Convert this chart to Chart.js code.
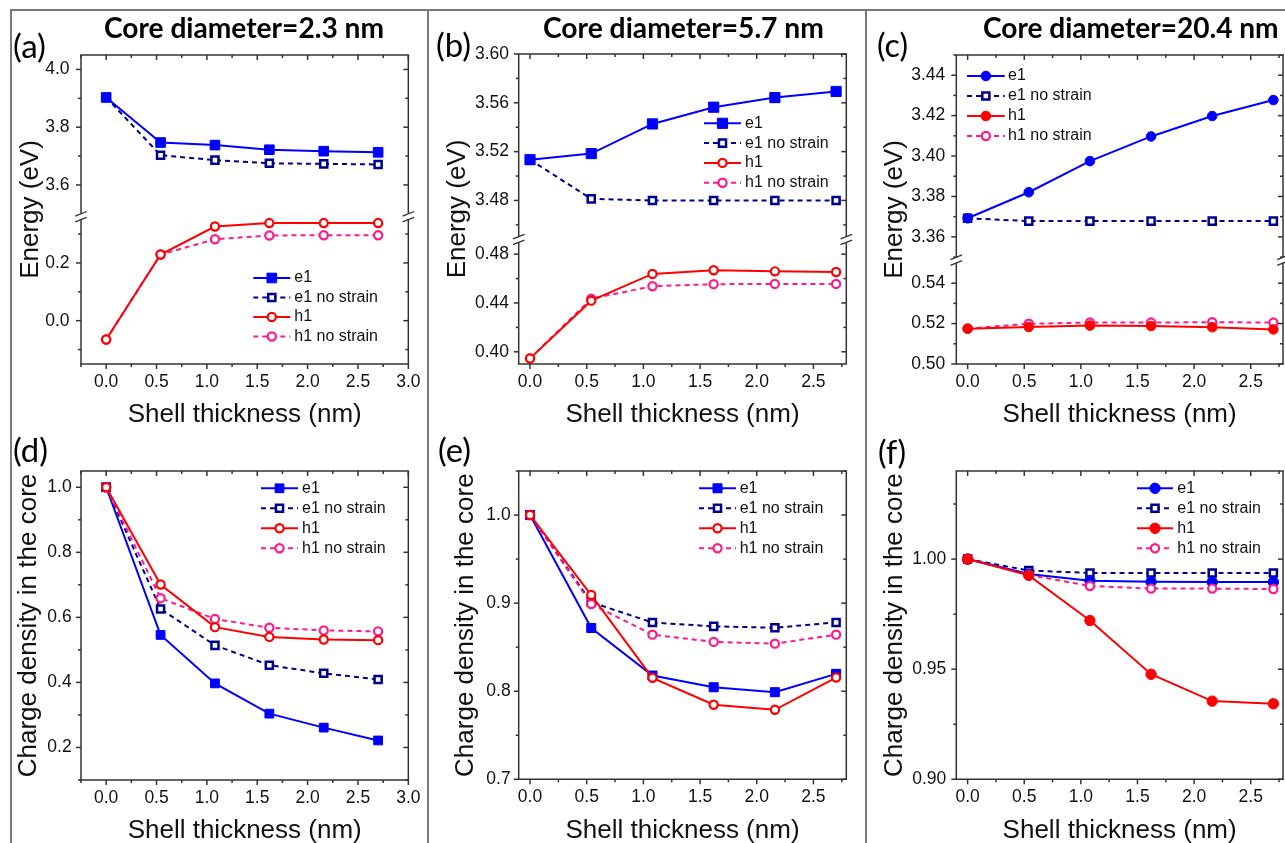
<!DOCTYPE html>
<html><head><meta charset="utf-8">
<script src="https://cdn.jsdelivr.net/npm/chart.js@4.4.1/dist/chart.umd.min.js"></script>
<style>
html,body{margin:0;padding:0;background:#fff;overflow:hidden;width:1285px;height:843px;position:relative;}
canvas.cv{position:absolute;}
.ttl{position:absolute;font-family:Lato,"Open Sans",sans-serif;font-weight:700;color:#000;white-space:nowrap;line-height:1;}
.lab{position:absolute;font-family:Lato,"Open Sans",sans-serif;font-weight:400;color:#000;white-space:nowrap;line-height:1;}
.bd{position:absolute;background:#7a7a7a;}
</style></head><body>
<div class="bd" style="left:10px;top:9px;width:1275px;height:2px"></div>
<div class="bd" style="left:10px;top:9px;width:2px;height:834px"></div>
<div class="bd" style="left:427px;top:9px;width:2px;height:834px"></div>
<div class="bd" style="left:865px;top:9px;width:2px;height:834px"></div>
<canvas class="cv" id="cA" width="428" height="430" style="left:0;top:0"></canvas>
<canvas class="cv" id="cB" width="430" height="430" style="left:428px;top:0"></canvas>
<canvas class="cv" id="cC" width="427" height="430" style="left:858px;top:0"></canvas>
<canvas class="cv" id="cD" width="428" height="426" style="left:0;top:420px"></canvas>
<canvas class="cv" id="cE" width="430" height="426" style="left:428px;top:420px"></canvas>
<canvas class="cv" id="cF" width="427" height="426" style="left:858px;top:420px"></canvas>
<div class="ttl" id="tA">Core diameter=2.3 nm</div>
<div class="ttl" id="tB">Core diameter=5.7 nm</div>
<div class="ttl" id="tC">Core diameter=20.4 nm</div>
<div class="lab" id="lA">(a)</div>
<div class="lab" id="lB">(b)</div>
<div class="lab" id="lC">(c)</div>
<div class="lab" id="lD">(d)</div>
<div class="lab" id="lE">(e)</div>
<div class="lab" id="lF">(f)</div>
<script>
// ---------------- DATA ----------------
const shellThickness = [0, 0.54, 1.08, 1.62, 2.16, 2.7];
const seriesLabels = ['e1', 'e1 no strain', 'h1', 'h1 no strain'];

// (a) Energy, core diameter 2.3 nm
const energyA_e1         = [3.903, 3.747, 3.738, 3.722, 3.717, 3.713];
const energyA_e1NoStrain = [3.903, 3.703, 3.686, 3.675, 3.673, 3.671];
const energyA_h1         = [-0.065, 0.229, 0.326, 0.338, 0.338, 0.338];
const energyA_h1NoStrain = [-0.065, 0.229, 0.282, 0.295, 0.296, 0.296];

// (b) Energy, core diameter 5.7 nm
const energyB_e1         = [3.5134, 3.5184, 3.5427, 3.5564, 3.5643, 3.5693];
const energyB_e1NoStrain = [3.5134, 3.4813, 3.4800, 3.4800, 3.4800, 3.4800];
const energyB_h1         = [0.3946, 0.4419, 0.4638, 0.4668, 0.4659, 0.4654];
const energyB_h1NoStrain = [0.3946, 0.4435, 0.4537, 0.4554, 0.4556, 0.4556];

// (c) Energy, core diameter 20.4 nm
const energyC_e1         = [3.3692, 3.3821, 3.3975, 3.4097, 3.4198, 3.4277];
const energyC_e1NoStrain = [3.3692, 3.3678, 3.3678, 3.3678, 3.3678, 3.3678];
const energyC_h1         = [0.5175, 0.5183, 0.5190, 0.5188, 0.5182, 0.5171];
const energyC_h1NoStrain = [0.5175, 0.5199, 0.5205, 0.5205, 0.5207, 0.5205];

// (d) Charge density in the core, 2.3 nm
const chargeD_e1         = [1.0, 0.546, 0.397, 0.304, 0.261, 0.2215];
const chargeD_e1NoStrain = [1.0, 0.626, 0.514, 0.453, 0.428, 0.409];
const chargeD_h1         = [1.0, 0.701, 0.570, 0.540, 0.532, 0.530];
const chargeD_h1NoStrain = [1.0, 0.659, 0.595, 0.568, 0.560, 0.557];

// (e) Charge density in the core, 5.7 nm
const chargeE_e1         = [1.0, 0.8718, 0.8178, 0.8045, 0.7989, 0.8197];
const chargeE_e1NoStrain = [1.0, 0.901, 0.878, 0.8736, 0.8721, 0.8781];
const chargeE_h1         = [1.0, 0.9092, 0.8152, 0.7846, 0.7789, 0.8155];
const chargeE_h1NoStrain = [1.0, 0.899, 0.8642, 0.856, 0.854, 0.8642];

// (f) Charge density in the core, 20.4 nm
const chargeF_e1         = [1.0, 0.9932, 0.9902, 0.9897, 0.9896, 0.9896];
const chargeF_e1NoStrain = [1.0, 0.9948, 0.9937, 0.9937, 0.9937, 0.9937];
const chargeF_h1         = [1.0, 0.9926, 0.9721, 0.9477, 0.9355, 0.9343];
const chargeF_h1NoStrain = [1.0, 0.9928, 0.9878, 0.9866, 0.9866, 0.9864];

// Tick labels
const xTicksWide   = [0.0, 0.5, 1.0, 1.5, 2.0, 2.5, 3.0];
const xTicksNarrow = [0.0, 0.5, 1.0, 1.5, 2.0, 2.5];
const yTicksA_top = [3.6, 3.8, 4.0];
const yTicksA_bot = [0.0, 0.2];
const yTicksB_top = [3.48, 3.52, 3.56, 3.60];
const yTicksB_bot = [0.40, 0.44, 0.48];
const yTicksC_top = [3.36, 3.38, 3.40, 3.42, 3.44];
const yTicksC_bot = [0.50, 0.52, 0.54];
const yTicksD = [0.2, 0.4, 0.6, 0.8, 1.0];
const yTicksE = [0.7, 0.8, 0.9, 1.0];
const yTicksF = [0.90, 0.95, 1.00];

// ---------------- STYLE ----------------
const FONT = '"Liberation Sans", Arial, Helvetica, sans-serif';
const COL = {e1:'#0000FF', e1ns:'#00008E', h1:'#FF0000', h1ns:'#FF1A8C'};
const AXIS_COLOR = '#333';
const TICK_FONT = 17.5, TITLE_FONT = 26, LEGEND_FONT = 16;

function ds(label, values, color, dash, pstyle, filled, r, bw, yAxisID, order) {
  return {
    label, data: shellThickness.map((x, i) => ({x, y: values[i]})),
    borderColor: color, backgroundColor: color, borderWidth: 2, borderDash: dash,
    pointStyle: pstyle, pointRadius: r, pointHoverRadius: r, pointBorderWidth: bw,
    pointBackgroundColor: filled ? color : '#ffffff', pointBorderColor: color,
    yAxisID, order, tension: 0, fill: false
  };
}

// ---------------- PLUGINS ----------------
function minorsOf(major, min, max) {
  const step = major[1] - major[0];
  const out = [];
  for (let i = 0; i < major.length - 1; i++) out.push((major[i] + major[i+1]) / 2);
  out.push(major[0] - step/2, major[major.length-1] + step/2);
  return out.filter(v => v >= min - 1e-9 && v <= max + 1e-9);
}

const framePlugin = {
  id: 'frame',
  afterDatasetsDraw(chart, args, o) {
    const {ctx, chartArea: ca, scales} = chart;
    const xs = scales.x;
    ctx.save();
    ctx.strokeStyle = AXIS_COLOR; ctx.lineWidth = 1.5; ctx.setLineDash([]);
    const ln = (x1, y1, x2, y2) => { ctx.beginPath(); ctx.moveTo(x1, y1); ctx.lineTo(x2, y2); ctx.stroke(); };
    ln(ca.left - 0.75, ca.top, ca.right + 0.75, ca.top);
    ln(ca.left - 0.75, ca.bottom, ca.right + 0.75, ca.bottom);
    const segs = o.ySegs.map(s => ({...s, sc: scales[s.id]}));
    const G = 2.9;
    if (segs.length === 2) {
      const b = scales[segs[0].id].bottom;
      for (const x0 of [ca.left, ca.right]) {
        ln(x0, ca.top, x0, b - G);
        ln(x0, b + G, x0, ca.bottom);
        ctx.lineWidth = 1.3;
        ln(x0 - 5.8, b - G + 2.3, x0 + 5.8, b - G - 2.3);
        ln(x0 - 5.8, b + G + 2.3, x0 + 5.8, b + G - 2.3);
        ctx.lineWidth = 1.5;
      }
    } else {
      ln(ca.left, ca.top, ca.left, ca.bottom);
      ln(ca.right, ca.top, ca.right, ca.bottom);
    }
    for (const v of o.xTicks) {
      const p = xs.getPixelForValue(v);
      ln(p, ca.bottom, p, ca.bottom + 5);
      ln(p, ca.top, p, ca.top + 5);
    }
    for (const v of minorsOf(o.xTicks, xs.min, xs.max)) {
      const p = xs.getPixelForValue(v);
      ln(p, ca.bottom, p, ca.bottom + 3);
      ln(p, ca.top, p, ca.top + 3);
    }
    for (const s of segs) {
      const sc = s.sc;
      for (const v of s.ticks) {
        if (v < sc.min - 1e-9 || v > sc.max + 1e-9) continue;
        const p = sc.getPixelForValue(v);
        ln(ca.left - 5, p, ca.left, p);
        ln(ca.right - 5, p, ca.right, p);
      }
      for (const v of minorsOf(s.ticks, sc.min, sc.max)) {
        const p = sc.getPixelForValue(v);
        if (segs.length === 2 && (Math.abs(p - sc.top) < 3 && sc.id === segs[1].id || Math.abs(p - sc.bottom) < 3 && sc.id === segs[0].id)) continue;
        ln(ca.left - 3, p, ca.left, p);
        ln(ca.right - 3, p, ca.right, p);
      }
    }
    ctx.fillStyle = '#111';
    ctx.font = TITLE_FONT + 'px ' + FONT;
    ctx.textAlign = 'center'; ctx.textBaseline = 'middle';
    ctx.translate(ca.left - o.yTitleOffset, (ca.top + ca.bottom) / 2);
    ctx.rotate(-Math.PI / 2);
    ctx.fillText(o.yTitle, 0, 0);
    ctx.restore();
  }
};

const legendPlugin = {
  id: 'boxLegend',
  afterDatasetsDraw(chart, args, o) {
    const ctx = chart.ctx;
    ctx.save();
    seriesLabels.forEach((lab, i) => {
      const d = chart.data.datasets.find(q => q.label === lab);
      const y = o.y + i * o.dy;
      ctx.strokeStyle = d.borderColor; ctx.lineWidth = d.borderWidth;
      ctx.setLineDash(d.borderDash || []);
      ctx.beginPath(); ctx.moveTo(o.x, y); ctx.lineTo(o.x + o.len, y); ctx.stroke();
      ctx.setLineDash([]);
      ctx.fillStyle = d.pointBackgroundColor; ctx.strokeStyle = d.pointBorderColor;
      ctx.lineWidth = d.pointBorderWidth;
      Chart.helpers.drawPoint(ctx, {pointStyle: d.pointStyle, radius: d.pointRadius, borderWidth: d.pointBorderWidth, rotation: 0}, o.x + o.len / 2, y);
      ctx.fillStyle = '#111'; ctx.font = LEGEND_FONT + 'px ' + FONT;
      ctx.textAlign = 'left'; ctx.textBaseline = 'middle';
      ctx.fillText(lab, o.x + o.len + o.gap, y);
    });
    ctx.restore();
  }
};

// ---------------- PANEL BUILDER ----------------
function panel(canvasId, P) {
  const cv = document.getElementById(canvasId);
  const scales = {
    x: {
      type: 'linear', min: P.xMin, max: P.xMax,
      afterBuildTicks: s => { s.ticks = P.xTicks.map(v => ({value: v})); },
      afterFit: s => { s.height = P.xH; },
      ticks: {autoSkip: false, maxRotation: 0, padding: 7.5, color: '#111', font: {family: FONT, size: TICK_FONT},
              callback: v => Number(v).toFixed(1)},
      grid: {display: false, drawTicks: false}, border: {display: false},
      title: {display: true, text: 'Shell thickness (nm)', color: '#111', font: {family: FONT, size: TITLE_FONT}, padding: 0}
    }
  };
  const segDefs = P.ySegs.slice().reverse();
  for (const s of segDefs) {
    const cfg = {
      type: 'linear', position: 'left', min: s.min, max: s.max,
      afterBuildTicks: sc => { sc.ticks = s.ticks.map(v => ({value: v})); },
      afterFit: sc => { sc.width = P.left; },
      ticks: {autoSkip: false, padding: P.yPad, color: '#111', font: {family: FONT, size: TICK_FONT},
              callback: v => Number(v).toFixed(s.digits)},
      grid: {display: false, drawTicks: false}, border: {display: false}
    };
    if (P.ySegs.length === 2) { cfg.stack = 'brk'; cfg.stackWeight = s.max - s.min; }
    scales[s.id] = cfg;
  }
  return new Chart(cv, {
    type: 'line',
    data: {datasets: P.datasets},
    options: {
      responsive: false, animation: false, devicePixelRatio: 1,
      layout: {autoPadding: false, padding: {left: 0, top: P.top, right: cv.width - P.right, bottom: 0}},
      plugins: {
        legend: {display: false}, tooltip: {enabled: false},
        frame: {xTicks: P.xTicks, ySegs: P.ySegs.map(s => ({id: s.id, ticks: s.ticks})), yTitle: P.yTitle, yTitleOffset: P.yTitleOffset},
        boxLegend: P.legend
      },
      scales
    },
    plugins: [framePlugin, legendPlugin]
  });
}

// Drawing order: e1ns bottom, then e1, h1ns, h1 top.
function sqSet(vals, yE, yH, rFill) {
  return [
    ds('e1', vals[0], COL.e1, [], 'rect', true, rFill, 1, yE, 2),
    ds('e1 no strain', vals[1], COL.e1ns, [5, 4], 'rect', false, 5, 2.5, yE, 3),
    ds('h1', vals[2], COL.h1, [], 'circle', false, 4.1, 2.2, yH, 0),
    ds('h1 no strain', vals[3], COL.h1ns, [5, 4], 'circle', false, 4.1, 2.2, yH, 1)
  ];
}
function circSet(vals, yE, yH, rFill) {
  return [
    ds('e1', vals[0], COL.e1, [], 'circle', true, rFill, 1, yE, 2),
    ds('e1 no strain', vals[1], COL.e1ns, [5, 4], 'rect', false, 5, 2.5, yE, 3),
    ds('h1', vals[2], COL.h1, [], 'circle', true, rFill, 1, yH, 0),
    ds('h1 no strain', vals[3], COL.h1ns, [5, 4], 'circle', false, 4.1, 2.2, yH, 1)
  ];
}

panel('cA', {
  left: 81, right: 409.3, top: 55, xH: 66, xMin: -0.25, xMax: 3.0, xTicks: xTicksWide,
  ySegs: [{id: 'yTop', min: 3.49, max: 4.05, ticks: yTicksA_top, digits: 1},
          {id: 'yBot', min: -0.15, max: 0.36, ticks: yTicksA_bot, digits: 1}],
  yPad: 11.5, yTitle: 'Energy (eV)', yTitleOffset: 50.5,
  legend: {x: 253.3, y: 278, dy: 19.5, len: 37, gap: 4},
  datasets: sqSet([energyA_e1, energyA_e1NoStrain, energyA_h1, energyA_h1NoStrain], 'yTop', 'yBot', 6.8)
});
panel('cB', {
  left: 90.7, right: 418.3, top: 54, xH: 66, xMin: -0.1, xMax: 2.79, xTicks: xTicksNarrow,
  ySegs: [{id: 'yTop', min: 3.448, max: 3.60, ticks: yTicksB_top, digits: 2},
          {id: 'yBot', min: 0.39, max: 0.492, ticks: yTicksB_bot, digits: 2}],
  yPad: 9.7, yTitle: 'Energy (eV)', yTitleOffset: 60.7,
  legend: {x: 276, y: 123.3, dy: 19.8, len: 37, gap: 4},
  datasets: sqSet([energyB_e1, energyB_e1NoStrain, energyB_h1, energyB_h1NoStrain], 'yTop', 'yBot', 7.2)
});
panel('cC', {
  left: 98.3, right: 425, top: 55, xH: 66, xMin: -0.1, xMax: 2.785, xTicks: xTicksNarrow,
  ySegs: [{id: 'yTop', min: 3.3485, max: 3.45, ticks: yTicksC_top, digits: 2},
          {id: 'yBot', min: 0.50, max: 0.5514, ticks: yTicksC_bot, digits: 2}],
  yPad: 11, yTitle: 'Energy (eV)', yTitleOffset: 61.8,
  legend: {x: 109, y: 76, dy: 20, len: 37.7, gap: 3.3},
  datasets: circSet([energyC_e1, energyC_e1NoStrain, energyC_h1, energyC_h1NoStrain], 'yTop', 'yBot', 4.8)
});
panel('cD', {
  left: 81, right: 409.3, top: 51, xH: 66, xMin: -0.25, xMax: 3.0, xTicks: xTicksWide,
  ySegs: [{id: 'y', min: 0.1, max: 1.05, ticks: yTicksD, digits: 1}],
  yPad: 9.3, yTitle: 'Charge density in the core', yTitleOffset: 52.5,
  legend: {x: 261, y: 68.3, dy: 20, len: 37, gap: 4},
  datasets: sqSet([chargeD_e1, chargeD_e1NoStrain, chargeD_h1, chargeD_h1NoStrain], 'y', 'y', 6.2)
});
panel('cE', {
  left: 90.7, right: 418.3, top: 51, xH: 66.7, xMin: -0.1, xMax: 2.79, xTicks: xTicksNarrow,
  ySegs: [{id: 'y', min: 0.7, max: 1.05, ticks: yTicksE, digits: 1}],
  yPad: 8, yTitle: 'Charge density in the core', yTitleOffset: 52.7,
  legend: {x: 271, y: 68.3, dy: 20, len: 37, gap: 3.7},
  datasets: sqSet([chargeE_e1, chargeE_e1NoStrain, chargeE_h1, chargeE_h1NoStrain], 'y', 'y', 6.4)
});
panel('cF', {
  left: 98.3, right: 425, top: 51, xH: 66.7, xMin: -0.1, xMax: 2.785, xTicks: xTicksNarrow,
  ySegs: [{id: 'y', min: 0.90, max: 1.04, ticks: yTicksF, digits: 2}],
  yPad: 10, yTitle: 'Charge density in the core', yTitleOffset: 61.8,
  legend: {x: 279, y: 68.3, dy: 20, len: 36, gap: 4.3},
  datasets: circSet([chargeF_e1, chargeF_e1NoStrain, chargeF_h1, chargeF_h1NoStrain], 'y', 'y', 5.2)
});

// ---------------- TEXT PLACEMENT ----------------
function place(id, left, width, capCenterY, capRatio) {
  const el = document.getElementById(id);
  el.style.fontSize = '30px';
  const w0 = el.getBoundingClientRect().width;
  const f = 30 * width / w0;
  el.style.fontSize = f + 'px';
  el.style.left = left + 'px';
  el.style.top = (capCenterY - capRatio * f) + 'px';
}
place('tA', 104, 280, 28.3, 0.529);
place('tB', 543, 281, 28.3, 0.529);
place('tC', 983, 295.7, 28.3, 0.529);
place('lA', 13, 33, 48.5, 0.58);
place('lB', 436, 35, 48.3, 0.58);
place('lC', 877, 31, 48, 0.58);
place('lD', 13, 35, 453.3, 0.58);
place('lE', 438, 33, 453.3, 0.58);
place('lF', 878, 28, 455, 0.58);
</script>
</body></html>
